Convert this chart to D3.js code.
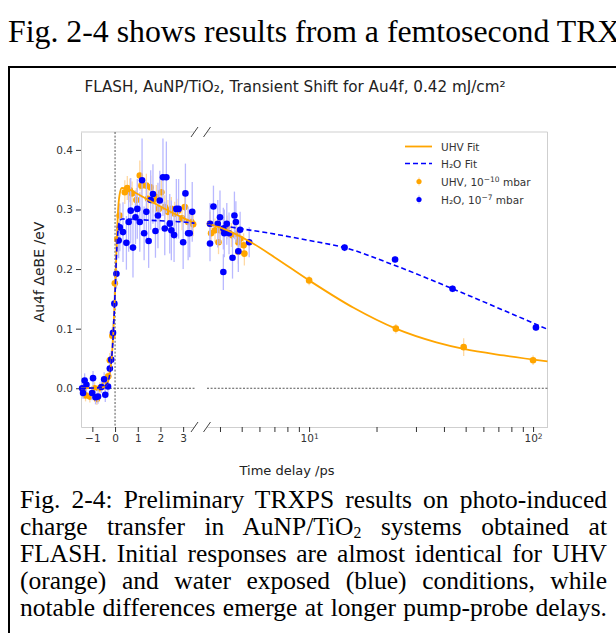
<!DOCTYPE html>
<html>
<head>
<meta charset="utf-8">
<script src="https://cdn.jsdelivr.net/npm/d3@7"></script>
<style>
  html, body { margin: 0; padding: 0; background: #fff; }
  body { width: 616px; height: 633px; overflow: hidden; position: relative;
         font-family: "Liberation Serif", "Times New Roman", serif; color: #000; }
  #lead { position: absolute; left: 8px; top: 16px; font-size: 31.8px; line-height: 31px; white-space: nowrap; }
  #frame { position: absolute; left: 8px; top: 66px; width: 660px; height: 660px;
           border: 2px solid #000; box-sizing: border-box; }
  #caption { position: absolute; left: 20px; top: 486px; width: 587px; font-size: 25.5px; line-height: 27px; }
  #caption div { text-align: justify; text-align-last: justify; white-space: nowrap; height: 27px; }
  #caption sub { font-size: 0.62em; vertical-align: baseline; position: relative; top: 0.2em; line-height: 0; }
  #chart { position: absolute; left: 0; top: 0; }
</style>
</head>
<body>
<div id="lead">Fig. 2-4 shows results from a femtosecond TRXPS experiment</div>
<div id="frame"></div>
<svg id="chart" width="616" height="633"></svg>
<div id="caption">
  <div>Fig. 2-4: Preliminary TRXPS results on photo-induced</div>
  <div>charge transfer in AuNP/TiO<sub>2</sub> systems obtained at</div>
  <div>FLASH. Initial responses are almost identical for UHV</div>
  <div>(orange) and water exposed (blue) conditions, while</div>
  <div>notable differences emerge at longer pump-probe delays.</div>
</div>
<script>
// time delays in ps, shifts in eV
var uhvT = [-1.41, -1.3, -1.11, -0.9, -0.8, -0.67, -0.45, -0.3, -0.23, -0.12, -0.01, 0.1,
  0.2, 0.43, 0.54, 0.65, 0.75, 0.94, 1.09, 1.16, 1.38, 1.45, 1.57, 1.67, 1.82, 1.93, 2.04,
  2.19, 2.33, 2.48, 2.63, 2.78, 2.95, 3.07, 3.22, 3.36, 3.44,
  3.61, 3.65, 3.8, 3.94, 4.0, 4.3, 4.5, 4.75, 4.83, 4.83, 4.92, 5.1, 5.14,
  10, 24.4, 49, 100];
var uhvV = [-0.003, -0.012, -0.014, 0.0, -0.018, 0.0, 0.006, 0.02, 0.047, 0.088, 0.176, 0.25,
  0.29, 0.329, 0.336, 0.332, 0.327, 0.316, 0.357, 0.34, 0.34, 0.318, 0.337, 0.315, 0.321, 0.301, 0.329,
  0.304, 0.296, 0.301, 0.293, 0.298, 0.285, 0.304, 0.279, 0.279, 0.275,
  0.276, 0.26, 0.265, 0.245, 0.265, 0.27, 0.257, 0.259, 0.245, 0.229, 0.251, 0.24, 0.226,
  0.181, 0.100, 0.069, 0.047];
var uhvErr = [0.01, 0.01, 0.01, 0.01, 0.01, 0.01, 0.01, 0.012, 0.012, 0.015, 0.015, 0.02,
  0.02, 0.02, 0.02, 0.02, 0.02, 0.02, 0.025, 0.02, 0.02, 0.02, 0.02, 0.02, 0.02, 0.02, 0.02,
  0.02, 0.02, 0.02, 0.02, 0.02, 0.02, 0.02, 0.02, 0.02, 0.02,
  0.02, 0.02, 0.02, 0.02, 0.02, 0.02, 0.02, 0.02, 0.02, 0.02, 0.02, 0.02, 0.02,
  0.008, 0.008, 0.015, 0.008];

var h2oT = [-1.45, -1.41, -1.34, -1.26, -1.01, -0.97, -0.86, -0.75, -0.6, -0.48, -0.43, -0.31,
  -0.23, -0.17, -0.09, -0.03, 0.06, 0.16,
  0.21, 0.35, 0.5, 0.6, 0.69, 0.79, 0.9, 0.98, 1.09, 1.19, 1.28, 1.38, 1.48, 1.57, 1.67, 1.78,
  1.89, 1.97, 2.11, 2.19, 2.26, 2.41, 2.48, 2.6, 2.7, 2.8, 3.0, 3.1, 3.22, 3.29, 3.4,
  3.61, 3.61, 3.74, 3.91, 4.0, 4.14, 4.14, 4.18, 4.29, 4.39, 4.55, 4.64, 4.71, 4.83, 4.92, 5.4,
  14.4, 24.2, 43.7, 103];
var h2oV = [0.0, -0.008, 0.013, 0.006, -0.008, 0.017, -0.015, -0.014, 0.002, 0.015, -0.011, 0.003,
  0.033, 0.048, 0.093, 0.142, 0.192, 0.248,
  0.270, 0.262, 0.244, 0.279, 0.298, 0.236, 0.287, 0.301, 0.279, 0.349, 0.26, 0.296, 0.247, 0.316,
  0.326, 0.264, 0.29, 0.315, 0.354, 0.268, 0.354, 0.276, 0.265, 0.257, 0.301, 0.301, 0.245, 0.327,
  0.26, 0.26, 0.296,
  0.276, 0.243, 0.305, 0.276, 0.287, 0.268, 0.195, 0.26, 0.276, 0.26, 0.219, 0.29, 0.279, 0.23,
  0.266, 0.245,
  0.236, 0.216, 0.167, 0.102];
var h2oErr = [0.012, 0.01, 0.012, 0.012, 0.012, 0.012, 0.012, 0.012, 0.01, 0.012, 0.012, 0.012,
  0.015, 0.015, 0.02, 0.02, 0.025, 0.03,
  0.04, 0.05, 0.045, 0.05, 0.055, 0.05, 0.045, 0.05, 0.05, 0.07, 0.045, 0.05, 0.045, 0.05, 0.05,
  0.045, 0.055, 0.05, 0.065, 0.045, 0.06, 0.05, 0.05, 0.045, 0.05, 0.05, 0.045, 0.05, 0.045, 0.04,
  0.05,
  0.035, 0.03, 0.035, 0.04, 0.045, 0.035, 0.03, 0.04, 0.035, 0.035, 0.035, 0.04, 0.035, 0.035,
  0.03, 0.025,
  0.006, 0.006, 0.006, 0.006];

// fit curves, sampled off the figure
var uhvFitT = [-1.5, -0.6, -0.4, -0.25, -0.15, -0.08, 0, 0.06, 0.12, 0.2, 0.3, 0.5, 1.0, 1.5,
  2.0, 2.5, 3.0, 3.5, 4.5, 5.5, 7, 10, 15.8, 24.4, 37, 49, 74, 116];
var uhvFitV = [0, 0.001, 0.005, 0.02, 0.05, 0.09, 0.16, 0.23, 0.29, 0.325, 0.336, 0.335, 0.326,
  0.315, 0.305, 0.295, 0.286, 0.277, 0.262, 0.245, 0.22, 0.181, 0.135, 0.100, 0.077, 0.066,
  0.055, 0.045];
var h2oFitT = [-1.5, -0.6, -0.4, -0.25, -0.15, -0.08, 0, 0.06, 0.12, 0.2, 0.3, 0.5, 1.0, 2.0,
  3.0, 3.5, 4.9, 6.7, 10, 14.4, 24.2, 43.7, 73.6, 116];
var h2oFitV = [0, 0.001, 0.005, 0.02, 0.05, 0.09, 0.16, 0.22, 0.26, 0.28, 0.284, 0.284, 0.283,
  0.281, 0.279, 0.277, 0.268, 0.260, 0.248, 0.236, 0.206, 0.167, 0.131, 0.099];

var yTicks = [0, 0.1, 0.2, 0.3, 0.4];
var leftTicks = [-1, 0, 1, 2, 3];
var rightMajor = [10, 100];
var rightMinor = [4, 5, 6, 7, 8, 9, 20, 30, 40, 50, 60, 70, 80, 90];

var ORANGE = "#ffa500", BLUE = "#0000ff";
var FONT = "'DejaVu Sans', sans-serif";
var BREAK = 3.5;

var svg = d3.select("#chart");
var y = d3.scaleLinear().domain([-0.065, 0.43]).range([427, 132]);
var xL = d3.scaleLinear().domain([-1.5, BREAK]).range([81, 194.5]);
var xR = d3.scaleLog().domain([BREAK, 116]).range([207, 547.5]);
function px(t) { return t <= BREAK ? xL(t) : xR(t); }

// spines (light grey), broken between the two panels
var spine = svg.append("g").attr("stroke", "#cfcfcf").attr("stroke-width", 1);
[[81, 132, 194.5, 132], [207, 132, 547.5, 132], [547.5, 132, 547.5, 427]].forEach(function (s) {
  spine.append("line").attr("x1", s[0]).attr("y1", s[1]).attr("x2", s[2]).attr("y2", s[3]);
});

function styleAxis(g) {
  g.attr("font-family", FONT).attr("font-size", 10.5);
  g.select(".domain").attr("stroke", "#cfcfcf");
  g.selectAll(".tick line").attr("stroke", "#333");
  g.selectAll(".tick text").attr("fill", "#333");
}
svg.append("g").attr("transform", "translate(81,0)")
  .call(d3.axisLeft(y).tickValues(yTicks).tickFormat(d3.format(".1f")).tickSize(5).tickSizeOuter(0))
  .call(styleAxis);
svg.append("g").attr("transform", "translate(0,427)")
  .call(d3.axisBottom(xL).tickValues(leftTicks)
    .tickFormat(function (d) { return d < 0 ? "\u2212" + Math.abs(d) : d; })
    .tickSize(5).tickSizeOuter(0))
  .call(styleAxis);
var ax = svg.append("g").attr("transform", "translate(0,427)")
  .call(d3.axisBottom(xR).tickValues(rightMinor.concat(rightMajor)).tickFormat(function () { return ""; })
    .tickSize(5).tickSizeOuter(0))
  .call(styleAxis);
ax.selectAll(".tick text").each(function (d) {
  if (rightMajor.indexOf(d) < 0) return;
  var t = d3.select(this).text("10");
  t.append("tspan").attr("font-size", 7.5).attr("dy", "-0.45em").text(Math.round(Math.log10(d)));
});

// break marks
var brk = svg.append("g").attr("stroke", "#444").attr("stroke-width", 1);
[194.5, 207].forEach(function (bx) {
  [132, 427].forEach(function (by) {
    brk.append("line").attr("x1", bx - 3.5).attr("y1", by + 5).attr("x2", bx + 3.5).attr("y2", by - 5);
  });
});

// reference lines
var ref = svg.append("g").attr("stroke", "#555").attr("stroke-width", 1).attr("stroke-dasharray", "2,1.6");
ref.append("line").attr("x1", xL(0)).attr("x2", xL(0)).attr("y1", 132).attr("y2", 427);
ref.append("line").attr("x1", 81).attr("x2", 194.5).attr("y1", y(0)).attr("y2", y(0));
ref.append("line").attr("x1", 207).attr("x2", 547.5).attr("y1", y(0)).attr("y2", y(0));

// error bars + points
function series(T, V, E, color, barColor, r) {
  var g = svg.append("g");
  var idx = d3.range(T.length);
  g.selectAll("line.err").data(idx).join("line").attr("class", "err")
    .attr("x1", function (i) { return px(T[i]); }).attr("x2", function (i) { return px(T[i]); })
    .attr("y1", function (i) { return y(V[i] - E[i]); }).attr("y2", function (i) { return y(V[i] + E[i]); })
    .attr("stroke", barColor).attr("stroke-width", 1.3);
  g.selectAll("circle").data(idx).join("circle")
    .attr("cx", function (i) { return px(T[i]); }).attr("cy", function (i) { return y(V[i]); })
    .attr("r", r).attr("fill", color);
}
series(uhvT, uhvV, uhvErr, ORANGE, "#ffd9a3", 3.3);
series(h2oT, h2oV, h2oErr, BLUE, "#b9b9ff", 3.3);

// fits, one piece per panel
function fit(T, V, color, dash) {
  var pts = T.map(function (t, i) { return [t, V[i]]; });
  var line = d3.line().curve(d3.curveMonotoneX);
  var left = pts.filter(function (p) { return p[0] <= BREAK; }).map(function (p) { return [xL(p[0]), y(p[1])]; });
  var right = pts.filter(function (p) { return p[0] >= BREAK; }).map(function (p) { return [xR(p[0]), y(p[1])]; });
  [left, right].forEach(function (seg) {
    svg.append("path").attr("d", line(seg)).attr("fill", "none")
      .attr("stroke", color).attr("stroke-width", dash ? 1.6 : 1.8)
      .attr("stroke-dasharray", dash);
  });
}
fit(uhvFitT, uhvFitV, ORANGE, null);
fit(h2oFitT, h2oFitV, BLUE, "5,3");

// title and axis labels
svg.append("text").attr("x", 295).attr("y", 92).attr("text-anchor", "middle")
  .attr("font-family", FONT).attr("font-size", 15.2).attr("fill", "#222")
  .text("FLASH, AuNP/TiO\u2082, Transient Shift for Au4f, 0.42 mJ/cm\u00b2");
svg.append("text").attr("transform", "translate(44,272) rotate(-90)").attr("text-anchor", "middle")
  .attr("font-family", FONT).attr("font-size", 14).attr("fill", "#222")
  .text("Au4f \u0394eBE /eV");
svg.append("text").attr("x", 287).attr("y", 475).attr("text-anchor", "middle")
  .attr("font-family", FONT).attr("font-size", 13).attr("fill", "#222")
  .text("Time delay /ps");

// legend
var leg = svg.append("g").attr("font-family", FONT).attr("font-size", 10.5).attr("fill", "#333");
var rows = [
  { y: 146.5, kind: "line", color: ORANGE, dash: null, label: ["UHV Fit"] },
  { y: 163.5, kind: "line", color: BLUE, dash: "5,3", label: ["H\u2082O Fit"] },
  { y: 181.5, kind: "dot", color: ORANGE, bar: "#ffd9a3", label: ["UHV, 10", "\u221210", " mbar"] },
  { y: 199.5, kind: "dot", color: BLUE, bar: "#b9b9ff", label: ["H\u2082O, 10", "\u22127", " mbar"] }
];
rows.forEach(function (r) {
  if (r.kind === "line") {
    leg.append("line").attr("x1", 405).attr("x2", 432).attr("y1", r.y).attr("y2", r.y)
      .attr("stroke", r.color).attr("stroke-width", r.dash ? 1.6 : 1.8).attr("stroke-dasharray", r.dash);
  } else {
    leg.append("line").attr("x1", 419).attr("x2", 419).attr("y1", r.y - 4).attr("y2", r.y + 4)
      .attr("stroke", r.bar).attr("stroke-width", 1.3);
    leg.append("circle").attr("cx", 419).attr("cy", r.y).attr("r", 2.6).attr("fill", r.color);
  }
  var t = leg.append("text").attr("x", 441).attr("y", r.y + 4).text(r.label[0]);
  if (r.label.length > 1) {
    t.append("tspan").attr("font-size", 7.5).attr("dy", "-4").text(r.label[1]);
    t.append("tspan").attr("dy", "4").text(r.label[2]);
  }
});
</script>
</body>
</html>
